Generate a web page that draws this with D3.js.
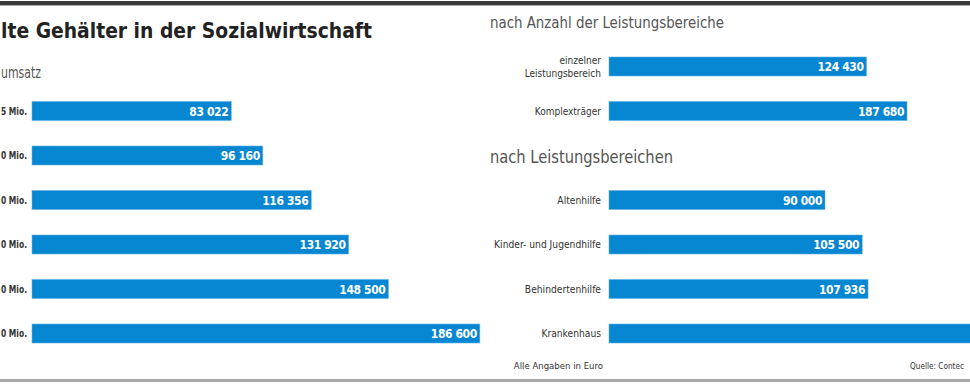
<!DOCTYPE html>
<html><head><meta charset="utf-8">
<script src="https://cdn.jsdelivr.net/npm/d3@7"></script>
<style>
html,body{margin:0;padding:0;background:#fff;overflow:hidden;}
svg{display:block;}
.cond{font-family:"DejaVu Sans Condensed","Liberation Sans Narrow","Roboto",sans-serif;}
</style></head>
<body>
<svg id="chart" width="970" height="388"></svg>
<script>
// ---- data ----
const title = "lte Gehälter in der Sozialwirtschaft";
const leftSubtitle = "umsatz";
const umsatzCategories = ["5 Mio.", "0 Mio.", "0 Mio.", "0 Mio.", "0 Mio.", "0 Mio."];
const umsatzValues = [83022, 96160, 116356, 131920, 148500, 186600];

const anzahlSubtitle = "nach Anzahl der Leistungsbereiche";
const anzahlCategories = [["einzelner", "Leistungsbereich"], ["Komplexträger"]];
const anzahlValues = [124430, 187680];

const bereicheSubtitle = "nach Leistungsbereichen";
const bereicheCategories = ["Altenhilfe", "Kinder- und Jugendhilfe", "Behindertenhilfe", "Krankenhaus"];
const bereicheValues = [90000, 105500, 107936, 175000];

const footnote = "Alle Angaben in Euro";
const source = "Quelle: Contec";

// ---- drawing ----
const svg = d3.select("#chart");
const W = 970, H = 388;
const barColor = "#0787d1";
const fmt = v => d3.format(",")(v).replace(/,/g, " ");

// frame lines
svg.append("rect").attr("x", 0).attr("y", 1).attr("width", W).attr("height", 4).attr("fill", "#3a3a3a");
svg.append("rect").attr("x", 0).attr("y", 5).attr("width", W).attr("height", 1).attr("fill", "#b0b0b0");
svg.append("rect").attr("x", 0).attr("y", 379).attr("width", W).attr("height", 3).attr("fill", "#a8a8a8");

// title
svg.append("text").attr("class", "cond").attr("x", 1).attr("y", 38)
  .attr("font-size", 22).attr("font-weight", "bold").attr("fill", "#222")
  .attr("textLength", 371).attr("lengthAdjust", "spacingAndGlyphs").text(title);

// shared value scale (Euro -> px)
const xs = d3.scaleLinear().domain([0, 100000]).range([0, 240]);
// top right panel as printed (not zero based)
const xsTop = d3.scaleLinear().domain([124430, 187680]).range([257.5, 298]);

function panel(opts) {
  const g = svg.append("g");
  const y = d3.scalePoint().domain(d3.range(opts.values.length)).range(opts.yRange);
  const bh = 19;
  g.selectAll("rect.bar").data(opts.values).join("rect").attr("class", "bar")
    .attr("x", opts.x0).attr("y", (d, i) => y(i) - bh / 2)
    .attr("width", d => opts.scale(d)).attr("height", bh)
    .attr("fill", barColor).attr("stroke", "#5fb3e6").attr("stroke-width", 0.6);
  const vis = opts.values.map((d, i) => ({d, i})).filter(o => opts.x0 + opts.scale(o.d) - 3 < W);
  g.selectAll("text.val").data(vis).join("text").attr("class", "val cond")
    .attr("x", o => opts.x0 + opts.scale(o.d) - 3).attr("y", o => y(o.i) + 4.5)
    .attr("text-anchor", "end").attr("font-size", 12).attr("font-weight", "bold")
    .attr("letter-spacing", -0.4)
    .attr("fill", "#fff").text(o => fmt(o.d));
  const lab = g.selectAll("text.lab").data(opts.cats).join("text").attr("class", "lab cond")
    .attr("x", opts.labX).attr("y", (d, i) => y(i) + 3.5)
    .attr("text-anchor", opts.labAnchor).attr("font-size", opts.labSize).attr("font-weight", opts.labWeight)
    .attr("fill", "#333");
  lab.each(function (d, i) {
    const lines = Array.isArray(d) ? d : [d];
    const t = d3.select(this);
    lines.forEach((ln, j) => {
      const ts = t.append("tspan").attr("x", opts.labX)
        .attr("dy", j === 0 ? (lines.length > 1 ? -6.5 : 0) : 13).text(ln);
      if (opts.labLen) ts.attr("textLength", opts.labLen).attr("lengthAdjust", "spacingAndGlyphs");
    });
  });
  return g;
}

// left panel
svg.append("text").attr("class", "cond").attr("x", 1).attr("y", 78)
  .attr("font-size", 15).attr("fill", "#555")
  .attr("textLength", 40).attr("lengthAdjust", "spacingAndGlyphs").text(leftSubtitle);
panel({x0: 32, values: umsatzValues, cats: umsatzCategories, yRange: [111, 333.5],
  scale: xs, labSize: 10, labWeight: "bold", labX: 1, labAnchor: "start", labLen: 26});

// right top panel
svg.append("text").attr("class", "cond").attr("x", 490).attr("y", 28)
  .attr("font-size", 15.5).attr("fill", "#555")
  .attr("textLength", 234).attr("lengthAdjust", "spacingAndGlyphs").text(anzahlSubtitle);
panel({x0: 609, values: anzahlValues, cats: anzahlCategories, yRange: [66.5, 111],
  scale: xsTop, labSize: 10, labWeight: "normal", labX: 601, labAnchor: "end"});

// right bottom panel
svg.append("text").attr("class", "cond").attr("x", 490).attr("y", 163)
  .attr("font-size", 17).attr("fill", "#555")
  .attr("textLength", 183).attr("lengthAdjust", "spacingAndGlyphs").text(bereicheSubtitle);
panel({x0: 609, values: bereicheValues, cats: bereicheCategories, yRange: [200, 333.5],
  scale: xs, labSize: 10.2, labWeight: "normal", labX: 601, labAnchor: "end"});

// footer
svg.append("text").attr("class", "cond").attr("x", 603).attr("y", 369).attr("text-anchor", "end")
  .attr("font-size", 9.5).attr("fill", "#333").text(footnote);
svg.append("text").attr("class", "cond").attr("x", 910).attr("y", 369)
  .attr("font-size", 8).attr("fill", "#333")
  .attr("textLength", 54).attr("lengthAdjust", "spacingAndGlyphs").text(source);
</script>
</body></html>
